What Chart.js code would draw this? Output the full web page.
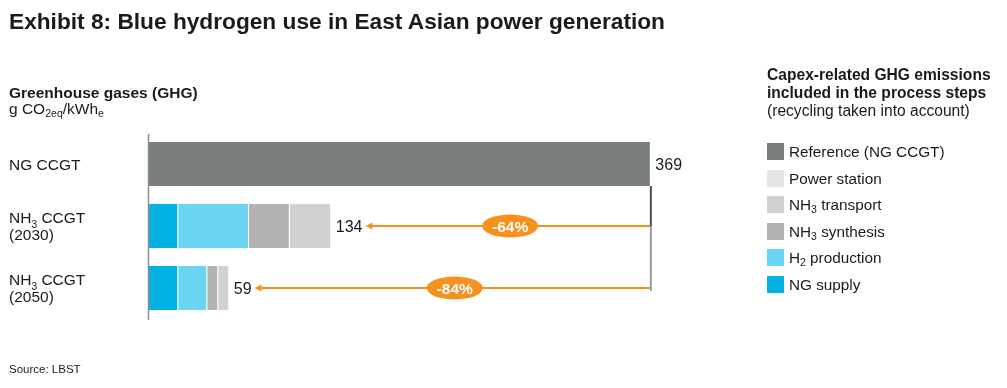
<!DOCTYPE html>
<html>
<head>
<meta charset="utf-8">
<script src="https://cdn.jsdelivr.net/npm/chart.js@4/dist/chart.umd.min.js"></script>
<style>
  html, body { margin: 0; padding: 0; background: #fff; }
  body { width: 1007px; height: 388px; position: relative; overflow: hidden;
         font-family: "Liberation Sans", Arial, Helvetica, sans-serif; color: #1a1a1a; }
  #wrap { position: absolute; left: 0; top: 0; width: 1007px; height: 388px; }
  .t { position: absolute; white-space: nowrap; line-height: 1; }
  #title { left: 9px; top: 9.5px; font-size: 22.7px; font-weight: bold; }
  #ytitle { left: 9px; top: 85px; font-size: 15.5px; font-weight: bold; }
  #yunit { left: 9px; top: 101px; font-size: 15.5px; }
  sub { font-size: 0.68em; vertical-align: -0.25em; line-height: 0; }
  #legtitle { position: absolute; left: 767px; top: 66px; font-size: 15.6px; line-height: 18px; white-space: nowrap; }
  #legtitle b { font-weight: bold; }
  .li { position: absolute; left: 767px; height: 17px; display: flex; align-items: center; font-size: 15.3px; line-height: 17px; white-space: nowrap; }
  .li .sw { width: 17px; height: 17px; margin-right: 5px; flex: none; }
  #source { left: 9px; top: 364px; font-size: 11.5px; }
</style>
</head>
<body>
<div id="wrap"><canvas id="c" width="1007" height="388"></canvas></div>
<div class="t" id="title">Exhibit 8: Blue hydrogen use in East Asian power generation</div>
<div class="t" id="ytitle">Greenhouse gases (GHG)</div>
<div class="t" id="yunit">g CO<sub>2eq</sub>/kWh<sub>e</sub></div>
<div id="legtitle"><b>Capex-related GHG emissions</b><br><b>included in the process steps</b><br>(recycling taken into account)</div>
<div id="legend"></div>
<div class="t" id="source">Source: LBST</div>
<script>
// ---- data ----
const categories = ["NG CCGT", "NH₃ CCGT\n(2030)", "NH₃ CCGT\n(2050)"];
const ngSupply     = [null, 21.5, 21.5];
const h2Production = [null, 52.0, 21.3];
const nh3Synthesis = [null, 30.0, 8.1];
const nh3Transport = [null, 30.5, 8.1];
const powerStation = [null, null, null];
const reference    = [369, null, null];
const totalLabels  = ["369", "134", "59"];
const reductionLabels = [null, "-64%", "-84%"];
const seriesNames  = ["NG supply", "H₂ production", "NH₃ synthesis", "NH₃ transport", "Power station", "Reference (NG CCGT)"];
const seriesColors = ["#00b3e3", "#6bd4f2", "#b2b2b2", "#d1d1d1", "#e6e6e6", "#7a7d7d"];
const seriesData   = [ngSupply, h2Production, nh3Synthesis, nh3Transport, powerStation, reference];

const ORANGE = "#f5911e";
const FONT = '"Liberation Sans", Arial, Helvetica, sans-serif';
const SUBS = {"₀":"0","₁":"1","₂":"2","₃":"3","₄":"4","₅":"5","₆":"6","₇":"7","₈":"8","₉":"9","ₑ":"e"};

function drawRich(ctx, str, x, y, size, weight) {
  let cx = x;
  for (const ch of str) {
    if (SUBS[ch]) {
      ctx.font = `${weight} ${size * 0.66}px ${FONT}`;
      ctx.fillText(SUBS[ch], cx, y + size * 0.3);
      cx += ctx.measureText(SUBS[ch]).width;
    } else {
      ctx.font = `${weight} ${size}px ${FONT}`;
      ctx.fillText(ch, cx, y);
      cx += ctx.measureText(ch).width;
    }
  }
  return cx - x;
}

const overlay = {
  id: "overlay",
  afterDatasetsDraw(chart) {
    const ctx = chart.ctx;
    const xs = chart.scales.x, ys = chart.scales.y;
    const area = chart.chartArea;
    ctx.save();
    // axis line
    ctx.strokeStyle = "#8c8c8c";
    ctx.lineWidth = 1.5;
    ctx.beginPath();
    ctx.moveTo(area.left - 0.5, area.top + 1);
    ctx.lineTo(area.left - 0.5, area.bottom + 1);
    ctx.stroke();

    // category labels
    ctx.fillStyle = "#1a1a1a";
    ctx.textBaseline = "alphabetic";
    ctx.textAlign = "left";
    categories.forEach((lab, i) => {
      const cy = ys.getPixelForValue(i);
      const lines = lab.split("\n");
      const lh = 17.3;
      lines.forEach((ln, j) => {
        const by = cy + 5.5 + (j - (lines.length - 1) / 2) * lh;
        drawRich(ctx, ln, 9, by, 15.5, "normal");
      });
    });

    // totals and arrows
    const refX = xs.getPixelForValue(reference[0]);
    const barBottom0 = ys.getPixelForValue(0) + 22;
    const arrowYs = [];
    categories.forEach((lab, i) => {
      let tot = 0;
      seriesData.forEach(s => { if (s[i] != null) tot += s[i]; });
      const ex = xs.getPixelForValue(tot);
      const cy = ys.getPixelForValue(i);
      ctx.font = `normal 16px ${FONT}`;
      ctx.fillStyle = "#1a1a1a";
      const lx = ex + 4.5;
      ctx.fillText(totalLabels[i], lx, cy + 6);
      const lw = ctx.measureText(totalLabels[i]).width;
      if (reductionLabels[i]) {
        const tip = lx + lw + 3;
        arrowYs.push(cy);
        ctx.strokeStyle = ORANGE;
        ctx.lineWidth = 2;
        ctx.beginPath();
        ctx.moveTo(refX, cy);
        ctx.lineTo(tip + 5, cy);
        ctx.stroke();
        ctx.fillStyle = ORANGE;
        ctx.beginPath();
        ctx.moveTo(tip, cy);
        ctx.lineTo(tip + 7, cy - 3.5);
        ctx.lineTo(tip + 7, cy + 3.5);
        ctx.closePath();
        ctx.fill();
        // ellipse badge
        const mx = (tip + refX) / 2 + 2;
        ctx.beginPath();
        ctx.ellipse(mx, cy, 28, 11.5, 0, 0, Math.PI * 2);
        ctx.fill();
        ctx.fillStyle = "#ffffff";
        ctx.font = `bold 15.5px ${FONT}`;
        ctx.textAlign = "center";
        ctx.fillText(reductionLabels[i], mx, cy + 5.5);
        ctx.textAlign = "left";
      }
    });
    // vertical reference line
    if (arrowYs.length) {
      ctx.lineWidth = 2;
      ctx.strokeStyle = "#4d4d4d";
      ctx.beginPath();
      ctx.moveTo(refX, barBottom0);
      ctx.lineTo(refX, arrowYs[0]);
      ctx.stroke();
      ctx.strokeStyle = "#9a9a9a";
      ctx.beginPath();
      ctx.moveTo(refX, arrowYs[0]);
      ctx.lineTo(refX, arrowYs[arrowYs.length - 1] + 3);
      ctx.stroke();
    }
    ctx.restore();
  }
};

const datasets = seriesNames.map((name, k) => ({
  label: name,
  data: seriesData[k],
  backgroundColor: seriesColors[k],
  borderColor: "rgba(255,255,255,0.85)",
  borderWidth: {left: 0, right: 1, top: 0, bottom: 0},
  borderSkipped: false,
  categoryPercentage: 1,
  barPercentage: 0.71
}));

new Chart(document.getElementById("c"), {
  type: "bar",
  data: { labels: categories, datasets },
  options: {
    indexAxis: "y",
    responsive: false,
    animation: false,
    devicePixelRatio: 1,
    layout: { padding: { left: 149, right: 314, top: 133, bottom: 69 } },
    scales: {
      x: { stacked: true, min: 0, max: 400, display: false },
      y: { stacked: true, display: false }
    },
    plugins: { legend: { display: false }, tooltip: { enabled: false } }
  },
  plugins: [overlay]
});

// HTML legend built from the series
function subHtml(s) {
  return s.replace(/[₀-₉ₑ]/g, ch => `<sub>${SUBS[ch]}</sub>`);
}
const leg = document.getElementById("legend");
const order = seriesNames.map((_, k) => k).reverse();
order.forEach((k, i) => {
  const d = document.createElement("div");
  d.className = "li";
  d.style.top = (143 + 26.6 * i) + "px";
  d.innerHTML = `<span class="sw" style="background:${seriesColors[k]}"></span><span>${subHtml(seriesNames[k])}</span>`;
  leg.appendChild(d);
});
</script>
</body>
</html>
